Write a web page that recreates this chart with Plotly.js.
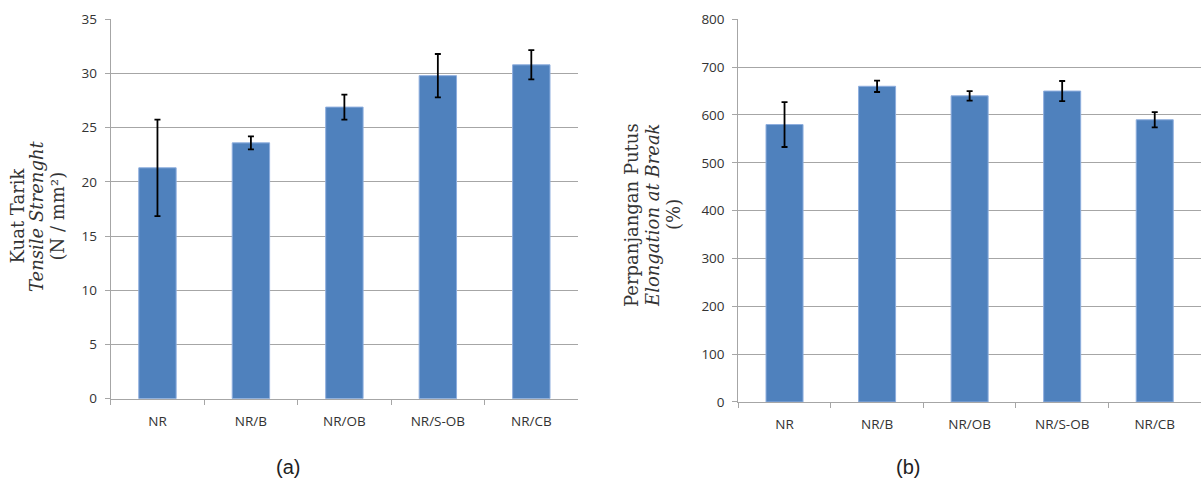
<!DOCTYPE html>
<html>
<head>
<meta charset="utf-8">
<script src="https://cdn.plot.ly/plotly-3.0.1.min.js"></script>
<style>html,body{margin:0;padding:0;background:#fff;}#chart{width:1201px;height:479px;}</style>
</head>
<body>
<div id="chart"></div>
<script>
const categories = ['NR', 'NR/B', 'NR/OB', 'NR/S-OB', 'NR/CB'];
const tensile = [21.3, 23.6, 26.9, 29.8, 30.8];
const tensileErr = [4.45, 0.6, 1.15, 2.0, 1.35];
const elongation = [580, 660, 640, 650, 590];
const elongationErr = [47, 12, 10, 21, 16];
const tensileTicks = [0, 5, 10, 15, 20, 25, 30, 35];
const elongationTicks = [0, 100, 200, 300, 400, 500, 600, 700, 800];
const tensileTitle = ['Kuat Tarik', '<i>Tensile Strenght</i>', '(N / mm²)'];
const elongationTitle = ['Perpanjangan Putus', '<i>Elongation at Break</i>', '(%)'];

const W = 1201, H = 479;
const barColor = '#4f81bd';
const gridColor = '#a6a6a6';
const tickFont = {family: 'Open Sans, sans-serif', size: 13.5, color: '#333333'};
const titleFont = {family: 'DejaVu Serif, serif', size: 18, color: '#333333'};

function barTrace(y, err, xa, ya) {
  return {
    type: 'bar', x: categories, y: y, xaxis: xa, yaxis: ya,
    marker: {color: barColor, line: {color: '#8eaede', width: 1}},
    error_y: {type: 'data', array: err, visible: true, color: '#000000', thickness: 1.8, width: 3},
    hoverinfo: 'x+y', showlegend: false
  };
}

const xBase = {
  type: 'category', showgrid: false, showline: true, linecolor: gridColor, linewidth: 1,
  ticks: 'outside', tickson: 'boundaries', ticklen: 5, tickcolor: gridColor,
  tickfont: tickFont, ticklabelstandoff: 10, fixedrange: true
};
const yBase = {
  showgrid: true, gridcolor: gridColor, gridwidth: 1, showline: true, linecolor: gridColor,
  ticks: 'outside', ticklen: 5, tickcolor: gridColor, tickfont: tickFont,
  ticklabelstandoff: 5, zeroline: false, fixedrange: true
};

function titleLines(lines, xs, yc) {
  return lines.map((t, i) => ({
    text: t, xref: 'paper', yref: 'paper', x: xs[i] / W, y: 1 - yc / H,
    xanchor: 'center', yanchor: 'middle', textangle: -90, showarrow: false, font: titleFont
  }));
}

const data = [
  barTrace(tensile, tensileErr, 'x', 'y'),
  barTrace(elongation, elongationErr, 'x2', 'y2')
];

const layout = {
  width: W, height: H,
  margin: {l: 0, r: 0, t: 0, b: 0},
  paper_bgcolor: '#ffffff', plot_bgcolor: '#ffffff',
  bargap: 0.6,
  xaxis: Object.assign({}, xBase, {domain: [0.0922, 0.4813], anchor: 'y'}),
  yaxis: Object.assign({}, yBase, {domain: [0.1677, 0.9597], range: [0, 35], tickvals: tensileTicks, anchor: 'x'}),
  xaxis2: Object.assign({}, xBase, {domain: [0.6147, 1.0], anchor: 'y2'}),
  yaxis2: Object.assign({}, yBase, {domain: [0.1608, 0.9597], range: [0, 800], tickvals: elongationTicks, anchor: 'x2'}),
  annotations: [].concat(
    titleLines(tensileTitle, [17.5, 37, 57.5], 216),
    titleLines(elongationTitle, [632, 653, 674], 215),
    [
      {text: '(a)', xref: 'paper', yref: 'paper', x: 288 / W, y: 1 - 467 / H,
       xanchor: 'center', yanchor: 'middle', showarrow: false,
       font: {family: 'Liberation Sans, Arial, sans-serif', size: 20, color: '#222222'}},
      {text: '(b)', xref: 'paper', yref: 'paper', x: 908 / W, y: 1 - 467 / H,
       xanchor: 'center', yanchor: 'middle', showarrow: false,
       font: {family: 'Liberation Sans, Arial, sans-serif', size: 20, color: '#222222'}}
    ]
  )
};

Plotly.newPlot('chart', data, layout, {displayModeBar: false, staticPlot: true});
</script>
</body>
</html>
